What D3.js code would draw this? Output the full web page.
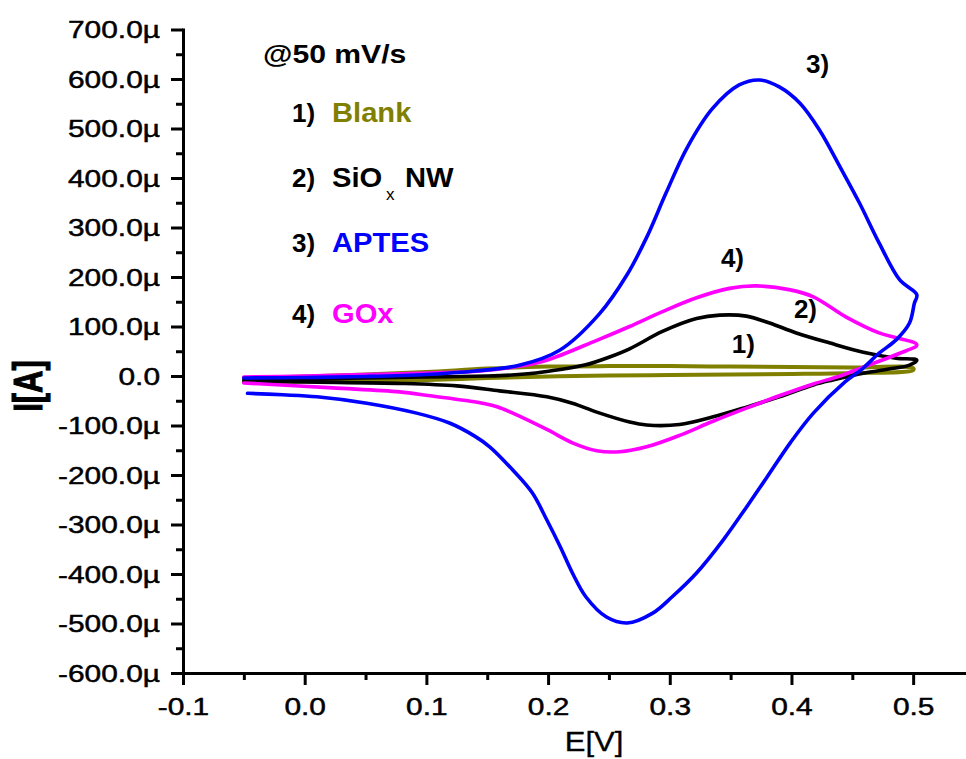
<!DOCTYPE html>
<html><head><meta charset="utf-8">
<script src="https://cdn.jsdelivr.net/npm/d3@7"></script>
<style>body{margin:0;background:#fff;} svg{display:block;}</style>
</head><body>
<svg id="c" width="966" height="759"></svg>
<script>
// ---- tick values and labels ----
const xTicks = [-0.1, 0, 0.1, 0.2, 0.3, 0.4, 0.5];
const xTickLabels = ["-0.1", "0.0", "0.1", "0.2", "0.3", "0.4", "0.5"];
const xMinor = [-0.05, 0.05, 0.15, 0.25, 0.35, 0.45];
const yTicks = [-600, -500, -400, -300, -200, -100, 0, 100, 200, 300, 400, 500, 600, 700];
const yTickLabels = ["-600.0µ", "-500.0µ", "-400.0µ", "-300.0µ", "-200.0µ", "-100.0µ", "0.0",
  "100.0µ", "200.0µ", "300.0µ", "400.0µ", "500.0µ", "600.0µ", "700.0µ"];
const yMinor = [-550, -450, -350, -250, -150, -50, 50, 150, 250, 350, 450, 550, 650];

// ---- series (E in V, I in µA), in sweep order ----
const blankE = [-0.05, 0, 0.05, 0.1, 0.15, 0.2, 0.25, 0.3, 0.35, 0.4, 0.45, 0.5,
  0.5, 0.45, 0.4, 0.35, 0.3, 0.25, 0.2, 0.15, 0.1, 0.05, 0, -0.05];
const blankI = [-4, -1, 3, 8, 15, 19, 20, 20, 19, 18, 17, 16,
  12, 6, 4, 3, 2, 1, -1, -4, -8, -10, -11, -12];

const sioxE = [-0.05, 0, 0.05, 0.1, 0.15, 0.17, 0.19, 0.21, 0.23, 0.25, 0.267, 0.294, 0.322, 0.341, 0.363, 0.382, 0.404, 0.431, 0.459, 0.486, 0.503,
  0.497, 0.48, 0.46, 0.434, 0.418, 0.39, 0.363, 0.335, 0.308, 0.281, 0.267, 0.24, 0.22, 0.199, 0.16, 0.125, 0.08, 0, -0.05];
const sioxI = [-8, -6, -4, -2, 0, 2, 6, 13, 22, 38, 55, 90, 116, 123, 121, 107, 87, 67, 48, 36, 32,
  22, 14, 6, -8, -18, -42, -63, -83, -98, -99, -93, -73, -55, -42, -30, -20, -15, -12, -10];

const aptesE = [-0.05, 0, 0.05, 0.1, 0.14, 0.177, 0.2095, 0.242, 0.265, 0.281, 0.297, 0.314, 0.335, 0.357, 0.374,
  0.39, 0.407, 0.423, 0.44, 0.456, 0.472, 0.489, 0.503,
  0.501, 0.497, 0.486, 0.472, 0.458, 0.444, 0.418, 0.399, 0.38, 0.363, 0.344, 0.322, 0.302, 0.286, 0.265, 0.248, 0.231, 0.22, 0.21, 0.199, 0.187, 0.171, 0.152, 0.14, 0.119, 0.092, 0.051, 0.01, -0.018, -0.047];
const aptesI = [-4, -3, -1, 3, 10, 22, 52, 125, 205, 280, 370, 460, 540, 588, 598,
  584, 551, 497, 422, 349, 269, 194, 164,
  147, 107, 73, 46, 14, -12, -75, -135, -204, -265, -331, -398, -446, -479, -499, -487, -446, -398, -345, -291, -236, -190, -143, -122, -95, -75, -55, -42, -38, -35];

const goxE = [-0.05, 0, 0.05, 0.103, 0.144, 0.177, 0.199, 0.24, 0.267, 0.294, 0.322, 0.349, 0.371, 0.399, 0.418, 0.445, 0.472, 0.503,
  0.489, 0.459, 0.44, 0.418, 0.39, 0.363, 0.335, 0.308, 0.281, 0.259, 0.24, 0.22, 0.199, 0.171, 0.158, 0.144, 0.103, 0.078, 0.023, -0.05];
const goxI = [-2, 0, 3, 6, 10, 20, 32, 72, 100, 130, 158, 177, 182, 174, 160, 119, 87, 63,
  46, 18, 0, -16, -40, -65, -92, -120, -143, -153, -151, -135, -108, -75, -62, -54, -40, -32, -24, -14];

const seriesNames = ["Blank", "SiOx NW", "APTES", "GOx"];
const seriesColors = ["#808000", "#000000", "#0000ff", "#ff00ff"];

const svg = d3.select("#c");
const FONT = "'Liberation Sans', Arial, sans-serif";

const x = d3.scaleLinear().domain([-0.1, 0.55]).range([183, 974]);
const y = d3.scaleLinear().domain([-600, 700]).range([673, 29.5]);

// ---- curves ----
const seriesData = [
  {E: blankE, I: blankI, color: seriesColors[0], w: 4},
  {E: sioxE, I: sioxI, color: seriesColors[1], w: 3.6},
  {E: goxE, I: goxI, color: seriesColors[3], w: 3.6},
  {E: aptesE, I: aptesI, color: seriesColors[2], w: 3.6}
];
const line = d3.line().x(d => x(d[0])).y(d => y(d[1])).curve(d3.curveCatmullRom.alpha(0.5));
seriesData.forEach(s => {
  const pts = s.E.map((e, i) => [e, s.I[i]]);
  svg.append("path").datum(pts).attr("d", line)
    .attr("fill", "none").attr("stroke", s.color).attr("stroke-width", s.w)
    .attr("stroke-linejoin", "round").attr("stroke-linecap", "round");
});

// ---- axes ----
const SX = 1.3;
const gxMinor = svg.append("g").attr("transform", "translate(0,673)")
  .call(d3.axisBottom(x).tickValues(xMinor).tickFormat("").tickSize(7).tickSizeOuter(0));
const gyMinor = svg.append("g").attr("transform", "translate(183,0)")
  .call(d3.axisLeft(y).tickValues(yMinor).tickFormat("").tickSize(7).tickSizeOuter(0));
[gxMinor, gyMinor].forEach(g => {
  g.select(".domain").remove();
  g.selectAll(".tick line").attr("stroke-width", 3);
});

const gx = svg.append("g").attr("transform", "translate(0,673)")
  .call(d3.axisBottom(x).tickValues(xTicks).tickFormat(d => xTickLabels[xTicks.indexOf(d)]).tickSize(12).tickSizeOuter(0));
const gy = svg.append("g").attr("transform", "translate(183,0)")
  .call(d3.axisLeft(y).tickValues(yTicks).tickFormat(d => yTickLabels[yTicks.indexOf(d)]).tickSize(12).tickSizeOuter(0));
[gx, gy].forEach(g => {
  g.select(".domain").attr("stroke-width", 3).attr("stroke-linecap", "square");
  g.selectAll(".tick line").attr("stroke-width", 3);
  g.selectAll("text").attr("fill", "#000").attr("font-family", FONT).attr("font-size", 23)
    .attr("stroke", "#000").attr("stroke-width", 0.45);
});
gx.selectAll("text").attr("x", 0).attr("y", 42).attr("dy", 0).attr("transform", `scale(${SX},1)`);
gy.selectAll("text").attr("x", -23 / SX).attr("dy", "0.36em").attr("transform", `scale(${SX},1)`);

// ---- axis titles ----
svg.append("text").attr("transform", "translate(594,751) scale(1.15,1)")
  .attr("text-anchor", "middle").attr("font-family", FONT).attr("font-size", 27)
  .attr("stroke", "#000").attr("stroke-width", 0.3).text("E[V]");
svg.append("text").attr("transform", "translate(42,386) scale(1.3,1) rotate(-90)")
  .attr("text-anchor", "middle").attr("font-family", FONT).attr("font-weight", "bold").attr("font-size", 31)
  .attr("stroke", "#000").attr("stroke-width", 0.8).text("I[A]");

// ---- legend block ----
function txt(str, px, py, size, color, weight, sx) {
  return svg.append("text").attr("transform", `translate(${px},${py}) scale(${sx},1)`)
    .attr("font-family", FONT).attr("font-size", size).attr("font-weight", weight)
    .attr("fill", color).text(str);
}
txt("@50 mV/s", 263, 63, 26, "#000", "bold", 1.16);
const legendY = [122, 187, 252, 323];
const legendNums = ["1)", "2)", "3)", "4)"];
legendY.forEach((ly, i) => {
  txt(legendNums[i], 292, ly, 26, "#000", "bold", 1.0);
});
txt(seriesNames[0], 332, legendY[0], 27, seriesColors[0], "bold", 1.08);
txt("SiO", 332, legendY[1], 27, seriesColors[1], "bold", 1.08);
txt("x", 386, legendY[1] + 13, 17, seriesColors[1], "normal", 1.0);
txt("NW", 405, legendY[1], 27, seriesColors[1], "bold", 1.08);
txt(seriesNames[2], 332, legendY[2], 27, seriesColors[2], "bold", 1.08);
txt(seriesNames[3], 332, legendY[3], 27, seriesColors[3], "bold", 1.08);

// ---- curve annotations ----
const annoText = ["3)", "4)", "2)", "1)"];
const annoE = [0.412, 0.342, 0.402, 0.351];
const annoI = [612, 220, 118, 46];
annoText.forEach((t, i) => {
  txt(t, x(annoE[i]), y(annoI[i]), 26, "#000", "bold", 1.0);
});
</script>
</body></html>
